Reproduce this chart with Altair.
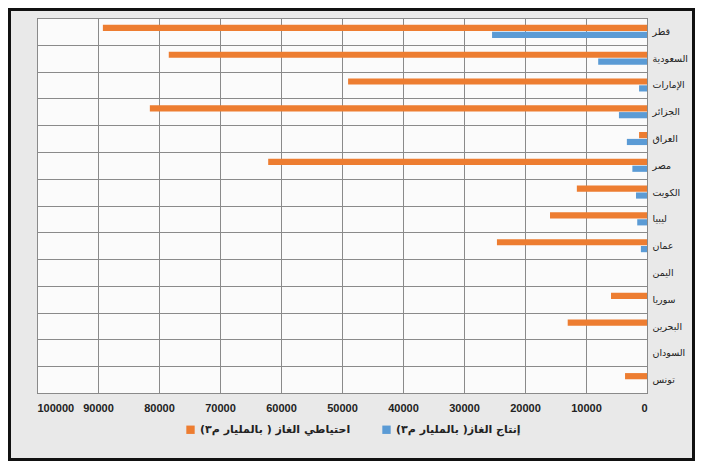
import altair as alt
import pandas as pd

countries = ["قطر", "السعودية", "الإمارات", "الجزائر", "العراق", "مصر", "الكويت",
             "ليبيا", "عمان", "اليمن", "سوريا", "البحرين", "السودان", "تونس"]
reserves = [89200, 78400, 49000, 81500, 1300, 62100, 11500, 15900, 24600, 0, 5900, 13000, 0, 3600]
production = [25400, 8000, 1300, 4600, 3300, 2400, 1800, 1600, 1000, 0, 0, 0, 0, 0]

s_res = "احتياطي الغاز ( بالمليار م٣)"
s_prod = "إنتاج الغاز( بالمليار م٣)"
series = [s_res, s_prod]
colors = ["#ED7D31", "#5B9BD5"]

rows = []
for c, r, p in zip(countries, reserves, production):
    rows.append({"country": c, "series": s_res, "value": r})
    rows.append({"country": c, "series": s_prod, "value": p})
df = pd.DataFrame(rows)

W, H = 610, 375
PL, PT, PR, PB = 29, 10, 48, 68

bars = alt.Chart(df).mark_bar().encode(
    y=alt.Y("country:N", sort=countries, title=None,
            scale=alt.Scale(paddingInner=0, paddingOuter=0),
            axis=alt.Axis(orient="right", ticks=False, domain=False, tickBand="extent",
                          grid=True, gridColor="#8a8a8a", gridWidth=1,
                          labelFontSize=9.5, labelColor="#222", labelPadding=5,
                          labelAlign="left",
                          labelFont="DejaVu Sans")),
    yOffset=alt.YOffset("series:N", sort=series,
                        scale=alt.Scale(paddingInner=0.1, paddingOuter=1)),
    x=alt.X("value:Q", title=None,
            scale=alt.Scale(domain=[0, 100000], reverse=True, nice=False),
            axis=alt.Axis(values=list(range(0, 100001, 10000)), format="d",
                          ticks=False, domain=False, grid=True, gridColor="#8a8a8a",
                          labelFontSize=11, labelFontWeight="bold", labelColor="#222",
                          labelPadding=9, labelFont="Liberation Sans")),
    color=alt.Color("series:N", sort=series,
                    scale=alt.Scale(domain=series, range=colors),
                    legend=alt.Legend(title=None, orient="none", direction="horizontal",
                                      legendX=148, legendY=406,
                                      symbolType="square", symbolSize=70,
                                      labelFontSize=11, labelFontWeight="bold",
                                      labelColor="#222", columnPadding=30,
                                      labelFont="DejaVu Sans")),
)

frame = alt.Chart(pd.DataFrame({"a": [0]})).mark_rect(
    filled=False, stroke="#111", strokeWidth=3
).encode(
    x=alt.value(-PL + 1.5), x2=alt.value(W + PR - 1.5),
    y=alt.value(-PT + 1.5), y2=alt.value(H + PB - 1.5),
)

chart = alt.layer(bars, frame).properties(
    width=W, height=H,
    autosize=alt.AutoSizeParams(type="none"),
    padding={"left": PL, "top": PT, "right": PR, "bottom": PB},
    background="#e9e9e9",
).configure_view(
    fill="#fbfbfb", stroke="#555", strokeWidth=1
)

chart.save("out.html", embed_options={"renderer": "svg", "actions": False})
